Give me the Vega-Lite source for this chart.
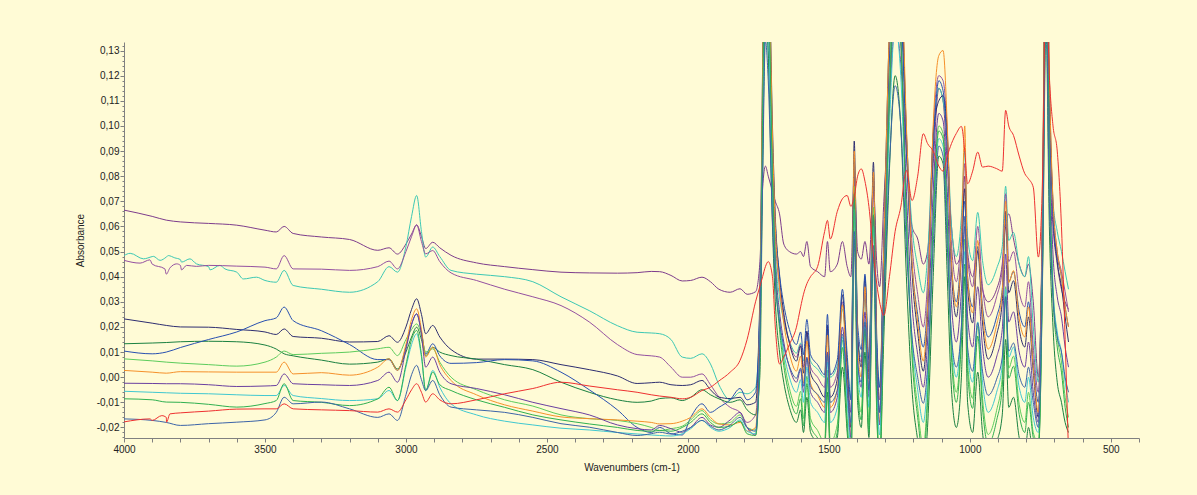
{
  "$schema": "https://vega.github.io/schema/vega-lite/v6.json",
  "width": 1015,
  "height": 396,
  "autosize": {"type": "none"},
  "padding": {"left": 124, "top": 42, "right": 58, "bottom": 57},
  "background": "#fffbd6",
  "config": {
    "view": {"stroke": null, "fill": "#fffbd6"},
    "axis": {"domainColor": "#808080", "tickColor": "#808080", "labelColor": "#222222", "labelFont": "Liberation Sans", "titleFont": "Liberation Sans", "labelFontSize": 10, "titleFontSize": 10, "titleFontWeight": "normal", "titleColor": "#222222", "grid": false}
  },
  "data": {"values": [
    {"w":4000,"L1":0.0665,"L2":0.0484,"L3":0.0465,"L4":0.0232,"L5":0.0133,"L6":0.0104,"L7":0.0073,"L8":0.0027,"L9":-0.0024,"L10":-0.0056,"L11":-0.0086,"L12":-0.0166,"L13":-0.0178},
    {"w":3978,"L2":0.0493},
    {"w":3943,"L3":0.0454},
    {"w":3931,"L2":0.0471},
    {"w":3908,"L3":0.0467,"L13":-0.0166},
    {"w":3896,"L2":0.0481},
    {"w":3872,"L2":0.0465},
    {"w":3866,"L13":-0.0153},
    {"w":3855,"L3":0.0431},
    {"w":3849,"L13":-0.0179},
    {"w":3843,"L2":0.0484},
    {"w":3837,"L3":0.0435,"L13":-0.0146},
    {"w":3820,"L2":0.0475},
    {"w":3813,"L3":0.0451},
    {"w":3796,"L2":0.0458,"L3":0.0427},
    {"w":3778,"L3":0.0445},
    {"w":3766,"L2":0.0471},
    {"w":3743,"L2":0.0451,"L3":0.0441},
    {"w":3695,"L2":0.0427},
    {"w":3660,"L2":0.0445},
    {"w":3642,"L2":0.0431},
    {"w":3577,"L2":0.0391},
    {"w":3530,"L2":0.0398},
    {"w":3900,"L1":0.0640,"L2":0.0480,"L3":0.0450,"L4":0.0215,"L5":0.0136,"L6":0.0093,"L7":0.0065,"L8":0.0020,"L9":-0.0025,"L10":-0.0060,"L11":-0.0090,"L12":-0.0172,"L13":-0.0172},
    {"w":3850,"L1":0.0625,"L2":0.0478,"L3":0.0410,"L4":0.0206,"L5":0.0138,"L6":0.0100,"L7":0.0060,"L8":0.0016,"L9":-0.0026,"L10":-0.0062,"L11":-0.0099,"L12":-0.0180,"L13":-0.0160},
    {"w":3800,"L1":0.0618,"L2":0.0468,"L3":0.0445,"L4":0.0200,"L5":0.0141,"L6":0.0118,"L7":0.0056,"L8":0.0022,"L9":-0.0026,"L10":-0.0064,"L11":-0.0100,"L12":-0.0192,"L13":-0.0142},
    {"w":3700,"L1":0.0612,"L2":0.0440,"L3":0.0445,"L4":0.0199,"L5":0.0143,"L6":0.0150,"L7":0.0050,"L8":0.0021,"L9":-0.0030,"L10":-0.0066,"L11":-0.0108,"L12":-0.0185,"L13":-0.0135},
    {"w":3600,"L1":0.0605,"L2":0.0418,"L3":0.0442,"L4":0.0190,"L5":0.0141,"L6":0.0180,"L7":0.0044,"L8":0.0020,"L9":-0.0037,"L10":-0.0070,"L11":-0.0119,"L12":-0.0179,"L13":-0.0127},
    {"w":3500,"L1":0.0585,"L2":0.0385,"L3":0.0438,"L4":0.0180,"L5":0.0128,"L6":0.0225,"L7":0.0060,"L8":0.0020,"L9":-0.0035,"L10":-0.0073,"L11":-0.0105,"L12":-0.0170,"L13":-0.0126},
    {"w":3460,"L1":0.0578,"L2":0.0378,"L3":0.0431,"L4":0.0170,"L5":0.0112,"L6":0.0236,"L7":0.0080,"L8":0.0020,"L9":-0.0033,"L10":-0.0073,"L11":-0.0093,"L12":-0.0140,"L13":-0.0126},
    {"w":3432,"L1":0.0600,"L2":0.0425,"L3":0.0484,"L4":0.0192,"L5":0.0093,"L6":0.0279,"L7":0.0104,"L8":0.0060,"L9":0.0013,"L10":-0.0033,"L11":-0.0026,"L12":-0.0080,"L13":-0.0106},
    {"w":3400,"L1":0.0572,"L2":0.0365,"L3":0.0431,"L4":0.0162,"L5":0.0085,"L6":0.0225,"L7":0.0090,"L8":0.0013,"L9":-0.0026,"L10":-0.0073,"L11":-0.0093,"L12":-0.0106,"L13":-0.0126},
    {"w":3300,"L1":0.0558,"L2":0.0350,"L3":0.0430,"L4":0.0155,"L5":0.0068,"L6":0.0185,"L7":0.0095,"L8":0.0018,"L9":-0.0030,"L10":-0.0085,"L11":-0.0100,"L12":-0.0099,"L13":-0.0130},
    {"w":3200,"L1":0.0548,"L2":0.0338,"L3":0.0425,"L4":0.0140,"L5":0.0052,"L6":0.0130,"L7":0.0100,"L8":0.0008,"L9":-0.0033,"L10":-0.0093,"L11":-0.0113,"L12":-0.0126,"L13":-0.0133},
    {"w":3100,"L1":0.0505,"L2":0.0380,"L3":0.0440,"L4":0.0142,"L5":0.0060,"L6":0.0070,"L7":0.0113,"L8":0.0040,"L9":-0.0013,"L10":-0.0086,"L11":-0.0086,"L12":-0.0160,"L13":-0.0139},
    {"w":3060,"L1":0.0515,"L2":0.0440,"L3":0.0462,"L4":0.0165,"L5":0.0073,"L6":0.0070,"L7":0.0119,"L8":0.0073,"L9":0.0020,"L10":-0.0053,"L11":-0.0040,"L12":-0.0146,"L13":-0.0126},
    {"w":3030,"L1":0.0490,"L2":0.0418,"L3":0.0431,"L4":0.0139,"L5":0.0033,"L6":0.0027,"L7":0.0086,"L8":0.0027,"L9":-0.0020,"L10":-0.0093,"L11":-0.0093,"L12":-0.0172,"L13":-0.0139},
    {"w":3000,"L1":0.0530,"L2":0.0520,"L3":0.0500,"L4":0.0200,"L5":0.0100,"L6":0.0120,"L7":0.0150,"L8":0.0130,"L9":0.0110,"L10":0.0040,"L11":0.0050,"L12":-0.0070,"L13":-0.0090},
    {"w":2980,"L1":0.0570,"L2":0.0640,"L3":0.0560,"L4":0.0270,"L5":0.0160,"L6":0.0210,"L7":0.0190,"L8":0.0230,"L9":0.0210,"L10":0.0130,"L11":0.0150,"L12":0.0010,"L13":-0.0050},
    {"w":2962,"L1":0.0606,"L2":0.0723,"L3":0.0606,"L4":0.0312,"L5":0.0199,"L6":0.0252,"L7":0.0212,"L8":0.0272,"L9":0.0252,"L10":0.0173,"L11":0.0186,"L12":0.0047,"L13":-0.0026},
    {"w":2945,"L1":0.0560,"L2":0.0580,"L3":0.0540,"L4":0.0250,"L5":0.0150,"L6":0.0180,"L7":0.0170,"L8":0.0190,"L9":0.0170,"L10":0.0080,"L11":0.0090,"L12":-0.0010,"L13":-0.0060},
    {"w":2930,"L1":0.0512,"L2":0.0478,"L3":0.0491,"L4":0.0173,"L5":0.0086,"L6":0.0093,"L7":0.0100,"L8":0.0080,"L9":0.0040,"L10":-0.0053,"L11":-0.0053,"L12":-0.0053,"L13":-0.0099},
    {"w":2905,"L1":0.0537,"L2":0.0518,"L3":0.0504,"L4":0.0206,"L5":0.0119,"L6":0.0133,"L7":0.0113,"L8":0.0119,"L9":0.0080,"L10":0.0027,"L11":0.0020,"L12":-0.0013,"L13":-0.0066},
    {"w":2880,"L1":0.0515,"L2":0.0480,"L3":0.0460,"L4":0.0160,"L5":0.0100,"L6":0.0085,"L7":0.0060,"L8":0.0050,"L9":0.0020,"L10":-0.0040,"L11":-0.0030,"L12":-0.0070,"L13":-0.0090},
    {"w":2840,"L1":0.0485,"L2":0.0425,"L3":0.0415,"L4":0.0110,"L5":0.0086,"L6":0.0055,"L7":0.0000,"L8":-0.0013,"L9":-0.0026,"L10":-0.0106,"L11":-0.0053,"L12":-0.0119,"L13":-0.0106},
    {"w":2750,"L1":0.0455,"L2":0.0410,"L3":0.0385,"L4":0.0072,"L5":0.0072,"L6":0.0058,"L7":-0.0050,"L8":-0.0070,"L9":-0.0045,"L10":-0.0150,"L11":-0.0090,"L12":-0.0130,"L13":-0.0090},
    {"w":2650,"L1":0.0440,"L2":0.0400,"L3":0.0350,"L4":0.0072,"L5":0.0050,"L6":0.0070,"L7":-0.0090,"L8":-0.0110,"L9":-0.0070,"L10":-0.0175,"L11":-0.0120,"L12":-0.0140,"L13":-0.0066},
    {"w":2550,"L1":0.0428,"L2":0.0380,"L3":0.0320,"L4":0.0070,"L5":0.0030,"L6":0.0065,"L7":-0.0115,"L8":-0.0135,"L9":-0.0100,"L10":-0.0190,"L11":-0.0150,"L12":-0.0160,"L13":-0.0045},
    {"w":2450,"L1":0.0418,"L2":0.0320,"L3":0.0285,"L4":0.0050,"L5":-0.0020,"L6":0.0020,"L7":-0.0150,"L8":-0.0158,"L9":-0.0125,"L10":-0.0203,"L11":-0.0170,"L12":-0.0185,"L13":-0.0020},
    {"w":2350,"L1":0.0415,"L2":0.0265,"L3":0.0220,"L4":0.0030,"L5":-0.0060,"L6":-0.0050,"L7":-0.0165,"L8":-0.0165,"L9":-0.0150,"L10":-0.0210,"L11":-0.0186,"L12":-0.0199,"L13":-0.0035},
    {"w":2250,"L1":0.0414,"L2":0.0205,"L3":0.0130,"L4":0.0005,"L5":-0.0090,"L6":-0.0130,"L7":-0.0172,"L8":-0.0170,"L9":-0.0190,"L10":-0.0220,"L11":-0.0200,"L12":-0.0220,"L13":-0.0050},
    {"w":2180,"L1":0.0416,"L2":0.0179,"L3":0.0090,"L4":-0.0025,"L5":-0.0100,"L6":-0.0200,"L7":-0.0185,"L8":-0.0175,"L9":-0.0205,"L10":-0.0226,"L11":-0.0212,"L12":-0.0232,"L13":-0.0060},
    {"w":2130,"L1":0.0421,"L2":0.0176,"L3":0.0085,"L4":-0.0022,"L5":-0.0095,"L6":-0.0220,"L7":-0.0200,"L8":-0.0180,"L9":-0.0210,"L10":-0.0230,"L11":-0.0215,"L12":-0.0225,"L13":-0.0070},
    {"w":2100,"L1":0.0420,"L2":0.0173,"L3":0.0080,"L4":-0.0020,"L5":-0.0085,"L6":-0.0200,"L7":-0.0212,"L8":-0.0186,"L9":-0.0192,"L10":-0.0232,"L11":-0.0212,"L12":-0.0219,"L13":-0.0075},
    {"w":2060,"L1":0.0405,"L2":0.0150,"L3":0.0040,"L4":-0.0030,"L5":-0.0082,"L6":-0.0225,"L7":-0.0205,"L8":-0.0185,"L9":-0.0205,"L10":-0.0234,"L11":-0.0215,"L12":-0.0226,"L13":-0.0080},
    {"w":2020,"L1":0.0383,"L2":0.0080,"L3":0.0000,"L4":-0.0033,"L5":-0.0093,"L6":-0.0230,"L7":-0.0195,"L8":-0.0175,"L9":-0.0219,"L10":-0.0225,"L11":-0.0200,"L12":-0.0215,"L13":-0.0086},
    {"w":1990,"L1":0.0385,"L2":0.0075,"L3":0.0000,"L4":-0.0030,"L5":-0.0080,"L6":-0.0160,"L7":-0.0170,"L8":-0.0160,"L9":-0.0200,"L10":-0.0205,"L11":-0.0180,"L12":-0.0200,"L13":-0.0080},
    {"w":1950,"L1":0.0398,"L2":0.0093,"L3":0.0013,"L4":-0.0013,"L5":-0.0050,"L6":-0.0106,"L7":-0.0133,"L8":-0.0126,"L9":-0.0160,"L10":-0.0172,"L11":-0.0146,"L12":-0.0172,"L13":-0.0053},
    {"w":1920,"L1":0.0380,"L2":0.0053,"L3":-0.0030,"L4":-0.0050,"L5":-0.0070,"L6":-0.0140,"L7":-0.0170,"L8":-0.0160,"L9":-0.0190,"L10":-0.0200,"L11":-0.0180,"L12":-0.0195,"L13":-0.0040},
    {"w":1890,"L1":0.0350,"L2":-0.0030,"L3":-0.0079,"L4":-0.0079,"L5":-0.0086,"L6":-0.0120,"L7":-0.0186,"L8":-0.0186,"L9":-0.0199,"L10":-0.0215,"L11":-0.0200,"L12":-0.0210,"L13":-0.0015},
    {"w":1850,"L1":0.0338,"L2":-0.0090,"L3":-0.0120,"L4":-0.0085,"L5":-0.0100,"L6":-0.0090,"L7":-0.0180,"L8":-0.0190,"L9":-0.0170,"L10":-0.0200,"L11":-0.0195,"L12":-0.0190,"L13":0.0020},
    {"w":1815,"L1":0.0352,"L2":-0.0060,"L3":-0.0140,"L4":-0.0080,"L5":-0.0090,"L6":-0.0045,"L7":-0.0150,"L8":-0.0180,"L9":-0.0140,"L10":-0.0170,"L11":-0.0175,"L12":-0.0160,"L13":0.0067},
    {"w":1790,"L1":0.0330,"L2":-0.0066,"L3":-0.0180,"L4":-0.0110,"L5":-0.0130,"L6":-0.0090,"L7":-0.0200,"L8":-0.0215,"L9":-0.0200,"L10":-0.0215,"L11":-0.0225,"L12":-0.0200,"L13":0.0150},
    {"w":1760,"L1":0.0340,"L2":-0.0040,"L3":-0.0150,"L4":-0.0100,"L5":-0.0150,"L6":-0.0060,"L7":-0.0210,"L8":-0.0200,"L9":-0.0230,"L10":-0.0225,"L11":-0.0232,"L12":-0.0215,"L13":0.0300},
    {"w":1745,"L1":0.045,"L2":0.024,"L3":0.026,"L4":0.028,"L5":0.0,"L6":0.031,"L7":0.010,"L8":0.024,"L9":0.016,"L10":0.012,"L11":0.007,"L12":0.014,"L13":0.036},
    {"w":1735,"L1":0.075,"L2":0.088,"L3":0.106,"L4":0.124,"L5":0.08,"L6":0.111,"L7":0.106,"L8":0.12,"L9":0.096,"L10":0.092,"L11":0.103,"L12":0.078,"L13":0.040},
    {"w":1725,"L1":0.084,"L2":0.144,"L3":0.176,"L4":0.208,"L5":0.15,"L6":0.181,"L7":0.19,"L8":0.204,"L9":0.166,"L10":0.162,"L11":0.187,"L12":0.134,"L13":0.044},
    {"w":1715,"L1":0.080,"L2":0.128,"L3":0.156,"L4":0.184,"L5":0.13,"L6":0.161,"L7":0.166,"L8":0.18,"L9":0.146,"L10":0.142,"L11":0.163,"L12":0.118,"L13":0.046},
    {"w":1700,"L1":0.074,"L2":0.072,"L3":0.086,"L4":0.100,"L5":0.06,"L6":0.091,"L7":0.082,"L8":0.096,"L9":0.076,"L10":0.072,"L11":0.079,"L12":0.062,"L13":0.040},
    {"w":1690,"L1":0.070,"L2":0.048,"L3":0.056,"L4":0.064,"L5":0.03,"L6":0.061,"L7":0.046,"L8":0.06,"L9":0.046,"L10":0.042,"L11":0.043,"L12":0.038,"L13":0.020},
    {"w":1675,"L1":0.065,"L2":0.032,"L3":0.036,"L4":0.040,"L5":0.01,"L6":0.041,"L7":0.022,"L8":0.036,"L9":0.026,"L10":0.022,"L11":0.019,"L12":0.022,"L13":0.0053},
    {"w":1660,"L1":0.053,"L2":0.0224,"L3":0.024,"L4":0.0256,"L5":-0.002,"L6":0.029,"L7":0.0076,"L8":0.0216,"L9":0.014,"L10":0.01,"L11":0.0046,"L12":0.0124,"L13":0.008},
    {"w":1640,"L1":0.050,"L2":0.0144,"L3":0.014,"L4":0.0136,"L5":-0.012,"L6":0.019,"L7":-0.0044,"L8":0.0096,"L9":0.004,"L10":0.0,"L11":-0.0074,"L12":0.0044,"L13":0.013},
    {"w":1615,"L1":0.049,"L2":0.0096,"L3":0.008,"L4":0.0064,"L5":-0.018,"L6":0.013,"L7":-0.0116,"L8":0.0024,"L9":-0.002,"L10":-0.006,"L11":-0.0146,"L12":-0.0004,"L13":0.0199},
    {"w":1600,"L1":0.050,"L2":0.0136,"L3":0.013,"L4":0.0124,"L5":-0.013,"L6":0.018,"L7":-0.0056,"L8":0.0084,"L9":0.003,"L10":-0.001,"L11":-0.0086,"L12":0.0036,"L13":0.028},
    {"w":1590,"L1":0.048,"L2":0.0064,"L3":0.004,"L4":0.0016,"L5":-0.022,"L6":0.009,"L7":-0.0164,"L8":-0.0024,"L9":-0.006,"L10":-0.01,"L11":-0.0194,"L12":-0.0036,"L13":0.033},
    {"w":1578,"L1":0.054,"L2":0.0176,"L3":0.018,"L4":0.0184,"L5":-0.008,"L6":0.023,"L7":0.0004,"L8":0.0144,"L9":0.008,"L10":0.004,"L11":-0.0026,"L12":0.0076,"L13":0.0372},
    {"w":1565,"L1":0.044,"L2":0.0064,"L3":0.004,"L4":0.0016,"L5":-0.022,"L6":0.009,"L7":-0.0164,"L8":-0.0024,"L9":-0.006,"L10":-0.01,"L11":-0.0194,"L12":-0.0036,"L13":0.040},
    {"w":1540,"L1":0.042,"L2":0.0032,"L3":0.0,"L4":-0.0032,"L5":-0.026,"L6":0.005,"L7":-0.0212,"L8":-0.0072,"L9":-0.01,"L10":-0.014,"L11":-0.0242,"L12":-0.0068,"L13":0.044},
    {"w":1515,"L1":0.040,"L2":0.0,"L3":-0.004,"L4":-0.008,"L5":-0.03,"L6":0.001,"L7":-0.026,"L8":-0.012,"L9":-0.014,"L10":-0.018,"L11":-0.029,"L12":-0.01,"L13":0.058},
    {"w":1505,"L1":0.054,"L2":0.0192,"L3":0.020,"L4":0.0208,"L5":-0.006,"L6":0.025,"L7":0.0028,"L8":0.0168,"L9":0.01,"L10":0.006,"L11":-0.0002,"L12":0.0092,"L13":0.0624},
    {"w":1495,"L1":0.042,"L2":0.0,"L3":-0.004,"L4":-0.008,"L5":-0.03,"L6":0.001,"L7":-0.026,"L8":-0.012,"L9":-0.014,"L10":-0.018,"L11":-0.029,"L12":-0.01,"L13":0.055},
    {"w":1470,"L1":0.045,"L2":0.0048,"L3":0.002,"L4":-0.0008,"L5":-0.024,"L6":0.007,"L7":-0.0188,"L8":-0.0048,"L9":-0.008,"L10":-0.012,"L11":-0.0218,"L12":-0.0052,"L13":0.066},
    {"w":1452,"L1":0.054,"L2":0.0272,"L3":0.030,"L4":0.0328,"L5":0.004,"L6":0.035,"L7":0.0148,"L8":0.0288,"L9":0.02,"L10":0.016,"L11":0.0118,"L12":0.0172,"L13":0.071},
    {"w":1435,"L1":0.044,"L2":0.0064,"L3":0.004,"L4":0.0016,"L5":-0.022,"L6":0.009,"L7":-0.0164,"L8":-0.0024,"L9":-0.006,"L10":-0.01,"L11":-0.0194,"L12":-0.0036,"L13":0.0723},
    {"w":1422,"L1":0.040,"L2":-0.008,"L3":-0.014,"L4":-0.020,"L5":-0.04,"L6":-0.009,"L7":-0.038,"L8":-0.024,"L9":-0.024,"L10":-0.028,"L11":-0.041,"L12":-0.018,"L13":0.068},
    {"w":1410,"L1":0.082,"L2":0.068,"L3":0.081,"L4":0.094,"L5":0.055,"L6":0.086,"L7":0.076,"L8":0.09,"L9":0.071,"L10":0.067,"L11":0.073,"L12":0.058,"L13":0.072},
    {"w":1398,"L1":0.050,"L2":0.016,"L3":0.016,"L4":0.016,"L5":-0.01,"L6":0.021,"L7":-0.002,"L8":0.012,"L9":0.006,"L10":0.002,"L11":-0.005,"L12":0.006,"L13":0.080},
    {"w":1385,"L1":0.047,"L2":0.008,"L3":0.006,"L4":0.004,"L5":-0.02,"L6":0.011,"L7":-0.014,"L8":0.0,"L9":-0.004,"L10":-0.008,"L11":-0.017,"L12":-0.002,"L13":0.0829},
    {"w":1372,"L1":0.054,"L2":0.032,"L3":0.036,"L4":0.040,"L5":0.01,"L6":0.041,"L7":0.022,"L8":0.036,"L9":0.026,"L10":0.022,"L11":0.019,"L12":0.022,"L13":0.078},
    {"w":1358,"L1":0.045,"L2":0.0048,"L3":0.002,"L4":-0.0008,"L5":-0.024,"L6":0.007,"L7":-0.0188,"L8":-0.0048,"L9":-0.008,"L10":-0.012,"L11":-0.0218,"L12":-0.0052,"L13":0.068},
    {"w":1342,"L1":0.076,"L2":0.0624,"L3":0.074,"L4":0.0856,"L5":0.048,"L6":0.079,"L7":0.0676,"L8":0.0816,"L9":0.064,"L10":0.06,"L11":0.0646,"L12":0.0524,"L13":0.049},
    {"w":1330,"L1":0.045,"L2":0.012,"L3":0.011,"L4":0.010,"L5":-0.015,"L6":0.016,"L7":-0.008,"L8":0.006,"L9":0.001,"L10":-0.003,"L11":-0.011,"L12":0.002,"L13":0.037},
    {"w":1320,"L1":0.036,"L2":-0.004,"L3":-0.009,"L4":-0.014,"L5":-0.035,"L6":-0.004,"L7":-0.032,"L8":-0.018,"L9":-0.019,"L10":-0.023,"L11":-0.035,"L12":-0.014,"L13":0.030},
    {"w":1305,"L1":0.07,"L2":0.047,"L3":0.052,"L4":0.054,"L5":0.016,"L6":0.054,"L7":0.033,"L8":0.052,"L9":0.038,"L10":0.031,"L11":0.029,"L12":0.029,"L13":0.0246},
    {"w":1285,"L1":0.11,"L2":0.113,"L3":0.128,"L4":0.140,"L5":0.083,"L6":0.127,"L7":0.116,"L8":0.14,"L9":0.11,"L10":0.1,"L11":0.111,"L12":0.085,"L13":0.040},
    {"w":1265,"L1":0.14,"L2":0.155,"L3":0.174,"L4":0.190,"L5":0.12,"L6":0.17,"L7":0.163,"L8":0.192,"L9":0.152,"L10":0.14,"L11":0.158,"L12":0.116,"L13":0.058},
    {"w":1245,"L1":0.125,"L2":0.144,"L3":0.158,"L4":0.168,"L5":0.10,"L6":0.15,"L7":0.138,"L8":0.172,"L9":0.134,"L10":0.12,"L11":0.134,"L12":0.1,"L13":0.0677},
    {"w":1225,"L1":0.09,"L2":0.096,"L3":0.098,"L4":0.096,"L5":0.04,"L6":0.09,"L7":0.066,"L8":0.10,"L9":0.074,"L10":0.06,"L11":0.062,"L12":0.052,"L13":0.0823},
    {"w":1205,"L1":0.06,"L2":0.06,"L3":0.053,"L4":0.042,"L5":-0.005,"L6":0.045,"L7":0.012,"L8":0.046,"L9":0.029,"L10":0.015,"L11":0.008,"L12":0.016,"L13":0.0703},
    {"w":1185,"L1":0.055,"L2":0.044,"L3":0.033,"L4":0.018,"L5":-0.025,"L6":0.025,"L7":-0.012,"L8":0.022,"L9":0.009,"L10":-0.005,"L11":-0.016,"L12":0.0,"L13":0.080},
    {"w":1165,"L1":0.045,"L2":0.0336,"L3":0.020,"L4":0.0024,"L5":-0.038,"L6":0.012,"L7":-0.0276,"L8":0.0064,"L9":-0.004,"L10":-0.018,"L11":-0.0316,"L12":-0.0104,"L13":0.0969},
    {"w":1150,"L1":0.05,"L2":0.048,"L3":0.038,"L4":0.024,"L5":-0.02,"L6":0.03,"L7":-0.006,"L8":0.028,"L9":0.014,"L10":0.0,"L11":-0.01,"L12":0.004,"L13":0.093},
    {"w":1130,"L1":0.085,"L2":0.096,"L3":0.098,"L4":0.096,"L5":0.04,"L6":0.09,"L7":0.066,"L8":0.10,"L9":0.074,"L10":0.06,"L11":0.062,"L12":0.052,"L13":0.090},
    {"w":1110,"L1":0.115,"L2":0.115,"L3":0.12,"L4":0.11,"L5":0.088,"L6":0.118,"L7":0.1,"L8":0.128,"L9":0.105,"L10":0.095,"L11":0.098,"L12":0.092,"L13":0.084},
    {"w":1095,"L1":0.11,"L2":0.11,"L3":0.118,"L4":0.112,"L5":0.085,"L6":0.114,"L7":0.097,"L8":0.13,"L9":0.102,"L10":0.092,"L11":0.095,"L12":0.088,"L13":0.082},
    {"w":1080,"L1":0.085,"L2":0.096,"L3":0.098,"L4":0.096,"L5":0.04,"L6":0.09,"L7":0.066,"L8":0.10,"L9":0.074,"L10":0.06,"L11":0.062,"L12":0.052,"L13":0.088},
    {"w":1065,"L1":0.06,"L2":0.06,"L3":0.053,"L4":0.042,"L5":-0.005,"L6":0.045,"L7":0.012,"L8":0.046,"L9":0.029,"L10":0.015,"L11":0.008,"L12":0.016,"L13":0.093},
    {"w":1048,"L1":0.045,"L2":0.048,"L3":0.038,"L4":0.024,"L5":-0.02,"L6":0.03,"L7":-0.006,"L8":0.028,"L9":0.014,"L10":0.0,"L11":-0.01,"L12":0.004,"L13":0.097},
    {"w":1030,"L1":0.05,"L2":0.064,"L3":0.058,"L4":0.048,"L5":0.0,"L6":0.05,"L7":0.018,"L8":0.052,"L9":0.034,"L10":0.02,"L11":0.014,"L12":0.02,"L13":0.0998},
    {"w":1018,"L1":0.08,"L2":0.09,"L3":0.085,"L4":0.075,"L5":0.04,"L6":0.07,"L7":0.055,"L8":0.10,"L9":0.06,"L10":0.05,"L11":0.045,"L12":0.064,"L13":0.09},
    {"w":1008,"L1":0.05,"L2":0.056,"L3":0.048,"L4":0.036,"L5":-0.01,"L6":0.04,"L7":0.006,"L8":0.04,"L9":0.024,"L10":0.01,"L11":0.002,"L12":0.012,"L13":0.077},
    {"w":990,"L1":0.04,"L2":0.0464,"L3":0.036,"L4":0.0216,"L5":-0.022,"L6":0.028,"L7":-0.0084,"L8":0.0256,"L9":0.012,"L10":-0.002,"L11":-0.0124,"L12":0.0024,"L13":0.082},
    {"w":972,"L1":0.05,"L2":0.0656,"L3":0.060,"L4":0.0504,"L5":0.002,"L6":0.052,"L7":0.0204,"L8":0.0544,"L9":0.036,"L10":0.022,"L11":0.0164,"L12":0.0216,"L13":0.0896},
    {"w":955,"L1":0.035,"L2":0.0464,"L3":0.036,"L4":0.0216,"L5":-0.022,"L6":0.028,"L7":-0.0084,"L8":0.0256,"L9":0.012,"L10":-0.002,"L11":-0.0124,"L12":0.0024,"L13":0.0836},
    {"w":935,"L1":0.03,"L2":0.0368,"L3":0.024,"L4":0.0072,"L5":-0.034,"L6":0.016,"L7":-0.0228,"L8":0.0112,"L9":0.0,"L10":-0.014,"L11":-0.0268,"L12":-0.0072,"L13":0.084},
    {"w":905,"L1":0.035,"L2":0.0432,"L3":0.032,"L4":0.0168,"L5":-0.026,"L6":0.024,"L7":-0.0132,"L8":0.0208,"L9":0.008,"L10":-0.006,"L11":-0.0172,"L12":-0.0008,"L13":0.083},
    {"w":885,"L1":0.045,"L2":0.052,"L3":0.043,"L4":0.030,"L5":-0.015,"L6":0.035,"L7":0.0,"L8":0.034,"L9":0.019,"L10":0.005,"L11":-0.004,"L12":0.008,"L13":0.082},
    {"w":873,"L1":0.06,"L2":0.076,"L3":0.073,"L4":0.066,"L5":0.015,"L6":0.065,"L7":0.036,"L8":0.07,"L9":0.049,"L10":0.035,"L11":0.032,"L12":0.032,"L13":0.1062},
    {"w":862,"L1":0.065,"L2":0.0544,"L3":0.046,"L4":0.0336,"L5":-0.012,"L6":0.038,"L7":0.0036,"L8":0.0376,"L9":0.022,"L10":0.008,"L11":-0.0004,"L12":0.0104,"L13":0.100},
    {"w":845,"L1":0.055,"L2":0.0576,"L3":0.050,"L4":0.0384,"L5":-0.008,"L6":0.042,"L7":0.0084,"L8":0.0424,"L9":0.026,"L10":0.012,"L11":0.0044,"L12":0.0136,"L13":0.0962},
    {"w":825,"L1":0.045,"L2":0.0448,"L3":0.034,"L4":0.0192,"L5":-0.024,"L6":0.026,"L7":-0.0108,"L8":0.0232,"L9":0.01,"L10":-0.004,"L11":-0.0148,"L12":0.0008,"L13":0.088},
    {"w":805,"L1":0.04,"L2":0.04,"L3":0.028,"L4":0.012,"L5":-0.03,"L6":0.02,"L7":-0.018,"L8":0.016,"L9":0.004,"L10":-0.01,"L11":-0.022,"L12":-0.004,"L13":0.081},
    {"w":792,"L1":0.045,"L2":0.048,"L3":0.038,"L4":0.024,"L5":-0.02,"L6":0.03,"L7":-0.006,"L8":0.028,"L9":0.014,"L10":0.0,"L11":-0.01,"L12":0.004,"L13":0.079},
    {"w":775,"L1":0.03,"L2":0.02,"L3":0.012,"L4":0.002,"L5":-0.03,"L6":0.006,"L7":-0.022,"L8":0.004,"L9":-0.006,"L10":-0.016,"L11":-0.024,"L12":-0.01,"L13":0.0756},
    {"w":757,"L1":0.0,"L2":-0.002,"L3":-0.006,"L4":-0.016,"L5":-0.03,"L6":-0.01,"L7":-0.026,"L8":-0.014,"L9":-0.018,"L10":-0.022,"L11":-0.028,"L12":-0.02,"L13":0.0478},
    {"w":742,"L1":0.06,"L2":0.06,"L3":0.07,"L4":0.07,"L5":0.04,"L6":0.065,"L7":0.05,"L8":0.072,"L9":0.06,"L10":0.05,"L11":0.045,"L12":0.045,"L13":0.08},
    {"w":730,"L1":0.16,"L2":0.15,"L3":0.18,"L4":0.2,"L5":0.14,"L6":0.18,"L7":0.19,"L8":0.2,"L9":0.17,"L10":0.16,"L11":0.18,"L12":0.15,"L13":0.16},
    {"w":718,"L1":0.09,"L2":0.10,"L3":0.11,"L4":0.12,"L5":0.06,"L6":0.11,"L7":0.09,"L8":0.12,"L9":0.094,"L10":0.08,"L11":0.086,"L12":0.07,"L13":0.12},
    {"w":705,"L1":0.06,"L2":0.07,"L3":0.07,"L4":0.066,"L5":0.02,"L6":0.065,"L7":0.036,"L8":0.07,"L9":0.049,"L10":0.035,"L11":0.032,"L12":0.032,"L13":0.10},
    {"w":690,"L1":0.045,"L2":0.058,"L3":0.05,"L4":0.046,"L5":-0.002,"L6":0.048,"L7":0.016,"L8":0.05,"L9":0.032,"L10":0.018,"L11":0.012,"L12":0.016,"L13":0.09},
    {"w":675,"L1":0.035,"L2":0.05,"L3":0.042,"L4":0.036,"L5":-0.01,"L6":0.04,"L7":0.006,"L8":0.04,"L9":0.024,"L10":0.01,"L11":0.002,"L12":0.01,"L13":0.06},
    {"w":662,"L1":0.03,"L2":0.042,"L3":0.034,"L4":0.024,"L5":-0.018,"L6":0.028,"L7":-0.008,"L8":0.028,"L9":0.012,"L10":-0.002,"L11":-0.012,"L12":0.0,"L13":0.015},
    {"w":650,"L1":0.027,"L2":0.035,"L3":0.026,"L4":0.014,"L5":-0.022,"L6":0.02,"L7":-0.016,"L8":0.02,"L9":0.004,"L10":-0.01,"L11":-0.02,"L12":-0.006,"L13":-0.03}
  ]},
  "transform": [
    {"fold": ["L1","L2","L3","L4","L5","L6","L7","L8","L9","L10","L11","L12","L13"], "as": ["s", "a"]},
    {"filter": "isValid(datum.a)"}
  ],
  "mark": {"type": "line", "strokeWidth": 1, "clip": true, "interpolate": "monotone"},
  "encoding": {
    "x": {
      "field": "w", "type": "quantitative",
      "scale": {"domain": [4000, 400], "nice": false, "zero": false},
      "axis": {
        "title": "Wavenumbers (cm-1)",
        "values": [4000,3900,3800,3700,3600,3500,3400,3300,3200,3100,3000,2900,2800,2700,2600,2500,2400,2300,2200,2100,2000,1900,1800,1700,1600,1500,1400,1300,1200,1100,1000,900,800,700,600,500,400],
        "labelExpr": "datum.value % 500 === 0 && datum.value >= 500 ? format(datum.value, 'd') : ''",
        "labelOverlap": false,
        "labelFlush": false,
        "tickSize": 4,
        "labelPadding": 2,
        "titlePadding": 8
      }
    },
    "y": {
      "field": "a", "type": "quantitative",
      "scale": {"domain": [-0.0242, 0.1334], "nice": false, "zero": false},
      "axis": {
        "title": "Absorbance",
        "values": [-0.024,-0.022,-0.02,-0.018,-0.016,-0.014,-0.012,-0.01,-0.008,-0.006,-0.004,-0.002,0,0.002,0.004,0.006,0.008,0.01,0.012,0.014,0.016,0.018,0.02,0.022,0.024,0.026,0.028,0.03,0.032,0.034,0.036,0.038,0.04,0.042,0.044,0.046,0.048,0.05,0.052,0.054,0.056,0.058,0.06,0.062,0.064,0.066,0.068,0.07,0.072,0.074,0.076,0.078,0.08,0.082,0.084,0.086,0.088,0.09,0.092,0.094,0.096,0.098,0.1,0.102,0.104,0.106,0.108,0.11,0.112,0.114,0.116,0.118,0.12,0.122,0.124,0.126,0.128,0.13,0.132],
        "labelExpr": "abs(datum.value*100-round(datum.value*100))<0.001 ? replace(replace(format(datum.value,'.2f'),'.',','),'\u2212','-') : ''",
        "labelOverlap": false,
        "tickSize": {"condition": {"test": "abs(datum.value*100-round(datum.value*100))<0.001", "value": 4}, "value": 2},
        "labelPadding": 1,
        "titleX": -44,
        "titleY": 198,
        "titleBaseline": "middle"
      }
    },
    "color": {
      "field": "s", "type": "nominal", "legend": null,
      "scale": {
        "domain": ["L1","L2","L3","L4","L5","L6","L7","L8","L9","L10","L11","L12","L13"],
        "range": ["#7d3c8c","#3cc8b4","#9450a0","#2d2d70","#1a8040","#2850b0","#5ccc5c","#f5902a","#6a3fa0","#40c8d0","#30b050","#3c64a8","#ee3030"]
      }
    }
  }
}
